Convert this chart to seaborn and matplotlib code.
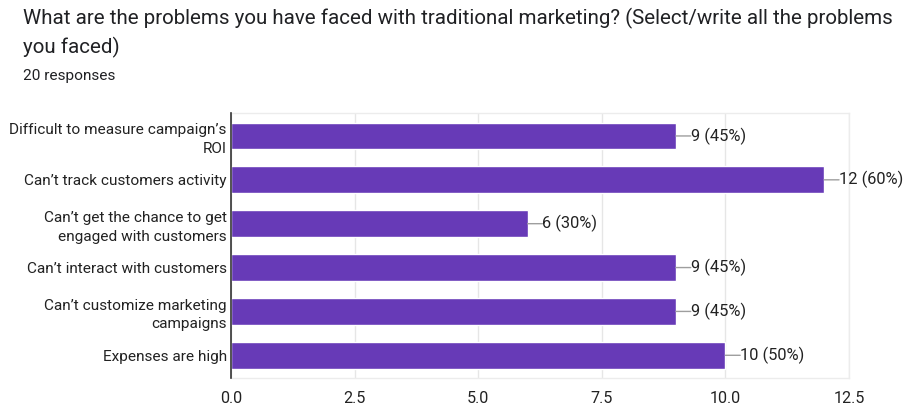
import matplotlib
matplotlib.use("Agg")
import matplotlib.pyplot as plt
import seaborn as sns
import pandas as pd

# Survey data
categories = [
    "Difficult to measure campaign\u2019s\nROI",
    "Can\u2019t track customers activity",
    "Can\u2019t get the chance to get\nengaged with customers",
    "Can\u2019t interact with customers",
    "Can\u2019t customize marketing\ncampaigns",
    "Expenses are high",
]
counts = [9, 12, 6, 9, 9, 10]
total_responses = 20
x_ticks = [0.0, 2.5, 5.0, 7.5, 10.0, 12.5]

sns.set_theme(style="white")
plt.rcParams["font.family"] = ["Roboto", "DejaVu Sans"]

df = pd.DataFrame({"problem": categories, "count": counts})

fig = plt.figure(figsize=(9.06, 4.07), dpi=100)
ax = fig.add_axes([0.255, 0.071, 0.682, 0.651])

sns.barplot(data=df, x="count", y="problem", orient="h", color="#673ab7",
            saturation=1, width=0.61, ax=ax, zorder=3)

ax.set_xlim(0, 12.5)
ax.set_xticks(x_ticks)
ax.set_xticklabels([f"{t:.1f}" for t in x_ticks], fontsize=11.6)
ax.set_xlabel("")
ax.set_ylabel("")
ax.grid(axis="x", color="#e6e6e6", linewidth=1, zorder=0)
for side in ["top", "right", "bottom"]:
    ax.spines[side].set_color("#ececec")
    ax.spines[side].set_linewidth(1)
ax.spines["left"].set_color("#333333")
ax.spines["left"].set_linewidth(1.2)
ax.spines["left"].set_zorder(4)
ax.tick_params(axis="both", length=0, colors="#222222")
ax.tick_params(axis="x", pad=9)
ax.set_yticks(range(len(categories)))
ax.set_yticklabels(categories, fontsize=11.1, linespacing=1.4)
ax.tick_params(axis="y", pad=3)
ax.set_ylim(5.52, -0.52)

# Value labels with short leader lines
for i, c in enumerate(counts):
    ax.annotate("", xy=(c, i), xytext=(c + 0.3, i),
                arrowprops=dict(arrowstyle="-", color="#9e9e9e", lw=1, shrinkA=0, shrinkB=0))
    ax.text(c + 0.3, i, f"{c} ({c / total_responses * 100:.0f}%)", va="center",
            ha="left", fontsize=11.8, color="#222222")

fig.text(0.025, 0.955, "What are the problems you have faced with traditional marketing? (Select/write all the problems",
         fontsize=14.8, color="#202124", va="center", ha="left")
fig.text(0.025, 0.884, "you faced)", fontsize=14.8, color="#202124", va="center", ha="left")
fig.text(0.025, 0.813, "20 responses", fontsize=11.1, color="#202124", va="center", ha="left")

fig.savefig("out.png", dpi=100)
